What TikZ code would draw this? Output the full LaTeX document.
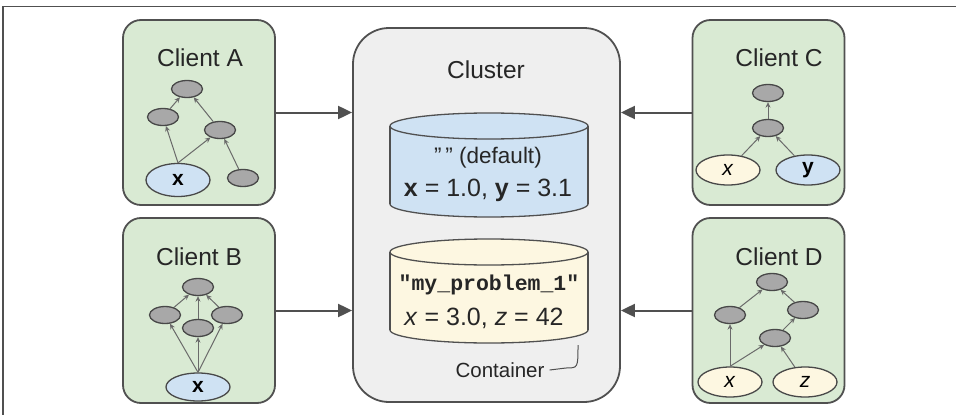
\documentclass[tikz,border=0pt]{standalone}
\usepackage{fontspec}
\setmainfont{Liberation Sans}
\setmonofont{Liberation Mono}
\usetikzlibrary{shapes.geometric,arrows.meta}
\definecolor{gfill}{HTML}{D9EAD3}
\definecolor{bfill}{HTML}{CFE2F3}
\definecolor{yfill}{HTML}{FDF7E1}
\definecolor{cfill}{HTML}{EFEFEF}
\definecolor{nfill}{HTML}{A8A8A8}
\definecolor{dline}{HTML}{505050}
\definecolor{eline}{HTML}{6A6A6A}
\begin{document}
\begin{tikzpicture}[x=1pt,y=-1pt,
  client/.style={draw=dline, fill=gfill, line width=1.8pt, rounded corners=18pt, minimum width=152pt, minimum height=185pt, inner sep=0pt},
  clusterbox/.style={draw=dline, fill=cfill, line width=1.8pt, rounded corners=36pt, minimum width=267pt, minimum height=374pt, inner sep=0pt},
  gnode/.style={ellipse, draw=dline!90!black, fill=nfill, line width=1.3pt, minimum width=31pt, minimum height=17pt, inner sep=0pt},
  vnode/.style={ellipse, draw=dline!90!black, line width=1.3pt, minimum width=64pt, minimum height=31pt, inner sep=0pt, font=\fontsize{21}{21}\selectfont},
  gedge/.style={draw=eline, line width=1pt, -{Stealth[length=5.5pt,width=5pt]}},
  bigarrow/.style={draw=dline, line width=2pt, -{Triangle[length=14pt,width=13pt]}},
  lbl/.style={font=\fontsize{24.5}{25}\selectfont, inner sep=0pt, text=black!85},
  cyl/.style={draw=dline, line width=1.3pt},
]
\useasboundingbox (0,0) rectangle (956,415);
\draw[dline, line width=1.5pt] (3,415) -- (3,6.5) -- (956,6.5);

% boxes
\node[client] (A) at (199,112.5) {};
\node[client] (B) at (199,310.5) {};
\node[client] (C) at (768.5,112.5) {};
\node[client] (D) at (768.5,310.5) {};
\node[clusterbox] (cl) at (486.5,215) {};

% labels
\node[lbl] (la) at (200,58) {Client A};
\node[lbl] (lb) at (199,257) {Client B};
\node[lbl] (lc) at (779,58) {Client C};
\node[lbl] (ld) at (779,257) {Client D};
\node[lbl] (lcl) at (486,70) {Cluster};

% cylinder 1
\fill[bfill, cyl] (489,204) ellipse [x radius=99, y radius=13];
\fill[bfill] (390,126) rectangle (588,204);
\draw[cyl] (390,126) -- (390,204);
\draw[cyl] (588,126) -- (588,204);
\draw[cyl, fill=bfill] (489,126) ellipse [x radius=99, y radius=13];
% cylinder 2
\fill[yfill, cyl] (489,330) ellipse [x radius=99, y radius=13];
\fill[yfill] (390,252) rectangle (588,330);
\draw[cyl] (390,252) -- (390,330);
\draw[cyl] (588,252) -- (588,330);
\draw[cyl, fill=yfill] (489,252) ellipse [x radius=99, y radius=13];

\node[lbl, font=\fontsize{22.5}{23}\selectfont] (t1) at (488,158) {"\,"\ (default)};
\node[lbl, font=\fontsize{25}{25}\selectfont] (t2) at (488,190) {\textbf{x} = 1.0, \textbf{y} = 3.1};
\node[lbl, font=\fontsize{21.5}{22}\selectfont\ttfamily\bfseries] (t3) at (489,285) {"my\_problem\_1"};
\node[lbl, font=\fontsize{25}{25}\selectfont] (t4) at (484,318) {\textit{x} = 3.0, \textit{z} = 42};
\node[lbl, font=\fontsize{20.5}{21}\selectfont] (ctr) at (500,370) {Container};
\coordinate (c2b) at (578,345);
\draw[dline, line width=1pt] (ctr.east) ++(5,0) -- (566,368) .. controls (578,368) .. (c2b);

% Client A graph
\node[gnode] (a1) at (187,89) {};
\node[gnode] (a2) at (163,117) {};
\node[gnode] (a3) at (220,130) {};
\node[vnode, fill=bfill, minimum height=33pt] (ax) at (178,180) {\textbf{x}};
\node[gnode] (a4) at (243,178) {};
\draw[gedge] (a2) -- (a1);
\draw[gedge] (a3) -- (a1);
\draw[gedge] (ax.north) -- (a2);
\draw[gedge] (ax.north) -- (a3);
\draw[gedge] (a4) -- (a3);

% Client B graph
\node[gnode] (b1) at (198,287) {};
\node[gnode] (b2) at (165,315) {};
\node[gnode] (b3) at (198,328) {};
\node[gnode] (b4) at (227,315) {};
\node[vnode, fill=bfill, minimum height=28pt] (bx) at (198,387) {\textbf{x}};
\draw[gedge] (b2) -- (b1);
\draw[gedge] (b3) -- (b1);
\draw[gedge] (b4) -- (b1);
\draw[gedge] (bx.north) -- (b2);
\draw[gedge] (bx.north) -- (b3);
\draw[gedge] (bx.north) -- (b4);

% Client C graph
\node[gnode] (c1) at (768,93) {};
\node[gnode] (c2) at (768,128) {};
\node[vnode, fill=yfill, minimum height=30pt] (cx) at (728,170) {\textit{x}};
\node[vnode, fill=bfill, minimum height=30pt] (cy) at (808,170) {\textbf{y}};
\draw[gedge] (c2) -- (c1);
\draw[gedge] (cx) -- (c2);
\draw[gedge] (cy) -- (c2);

% Client D graph
\node[gnode] (d1) at (772,282) {};
\node[gnode] (d2) at (730,315) {};
\node[gnode] (d3) at (803,310) {};
\node[gnode] (d4) at (775,338) {};
\node[vnode, fill=yfill, minimum height=30pt] (dx) at (730,382) {\textit{x}};
\node[vnode, fill=yfill, minimum height=30pt] (dz) at (805,382) {\textit{z}};
\draw[gedge] (d2) -- (d1);
\draw[gedge] (d3) -- (d1);
\draw[gedge] (d4) -- (d3);
\draw[gedge] (dx.north) -- (d2);
\draw[gedge] (dx.north) -- (d4);
\draw[gedge] (dz) -- (d4);

% big arrows
\draw[bigarrow] (A.east) -- (A.east -| cl.west);
\draw[bigarrow] (B.east) -- (B.east -| cl.west);
\draw[bigarrow] (C.west) -- (C.west -| cl.east);
\draw[bigarrow] (D.west) -- (D.west -| cl.east);
\end{tikzpicture}
\end{document}
